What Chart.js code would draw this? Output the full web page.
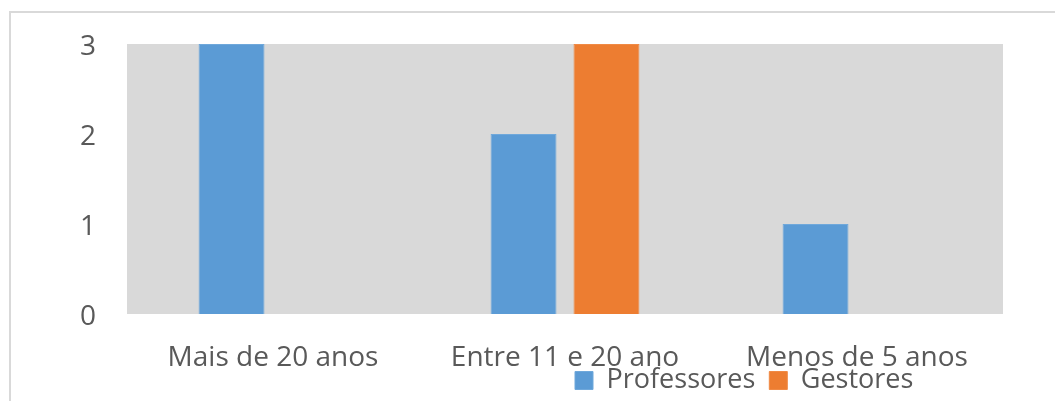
<!DOCTYPE html>
<html>
<head>
<meta charset="utf-8">
<script src="https://cdn.jsdelivr.net/npm/chart.js@4"></script>
<style>
  html, body { margin: 0; padding: 0; background: #fff; }
  #wrap { width: 1055px; height: 401px; position: relative; }
</style>
</head>
<body>
<div id="wrap"><canvas id="grafico"></canvas></div>
<script>
const categorias = ['Mais de 20 anos', 'Entre 11 e 20 ano', 'Menos de 5 anos'];
const professores = [3, 2, 1];
const gestores = [0, 3, 0];
const yTicks = [0, 1, 2, 3];

const AZUL = '#5b9bd5';
const LARANJA = '#ed7d31';
const TEXTO = '#595959';
const FONTE = "'Open Sans', 'Noto Sans', sans-serif";

// fundo cinza da área de plotagem + moldura externa
const fundo = {
  id: 'fundo',
  beforeDraw(chart) {
    const { ctx, chartArea: a } = chart;
    ctx.save();
    ctx.fillStyle = '#d9d9d9';
    ctx.fillRect(a.left, a.top, a.right - a.left, a.bottom - a.top);
    ctx.strokeStyle = '#d9d9d9';
    ctx.lineWidth = 2;
    ctx.beginPath();
    ctx.moveTo(10, 401);
    ctx.lineTo(10, 12);
    ctx.lineTo(1055, 12);
    ctx.stroke();
    ctx.restore();
  }
};

// legenda deslocada para a direita, logo abaixo dos rótulos
const moveLegenda = {
  id: 'moveLegenda',
  afterLayout(chart) {
    const lg = chart.legend;
    const dx = 575 - 14 - lg.left;
    lg.left += dx;
    lg.right += dx;
    const dy = 353 - lg.top;
    lg.top += dy;
    lg.bottom += dy;
  }
};

new Chart(document.getElementById('grafico'), {
  type: 'bar',
  data: {
    labels: categorias,
    datasets: [
      {
        label: 'Professores',
        data: professores,
        backgroundColor: AZUL,
        borderColor: '#6fa8db',
        borderWidth: 1,
        categoryPercentage: 0.568,
        barPercentage: 0.795,
      },
      {
        label: 'Gestores',
        data: gestores,
        backgroundColor: LARANJA,
        borderColor: '#f08a45',
        borderWidth: 1,
        categoryPercentage: 0.568,
        barPercentage: 0.795,
      },
    ]
  },
  options: {
    responsive: true,
    maintainAspectRatio: false,
    animation: false,
    layout: { padding: { top: 44, right: 52, left: 0, bottom: -19 } },
    scales: {
      x: {
        grid: { display: false, drawTicks: false },
        border: { display: false },
        ticks: { color: TEXTO, font: { family: FONTE, size: 28 }, padding: 27, maxRotation: 0, autoSkip: false },
        afterFit(s) { s.height = 55; },
      },
      y: {
        min: 0,
        max: 3,
        afterBuildTicks(s) { s.ticks = yTicks.map(v => ({ value: v })); },
        grid: { display: false, drawTicks: false },
        border: { display: false },
        ticks: { color: TEXTO, font: { family: FONTE, size: 28 }, padding: 31, labelOffset: 3 },
        afterFit(s) { s.width = 127; s.paddingTop = 0; s.paddingBottom = 0; },
      },
    },
    plugins: {
      legend: {
        position: 'bottom',
        align: 'start',
        labels: {
          color: TEXTO,
          font: { family: FONTE, size: 27 },
          boxWidth: 18,
          boxHeight: 18,
          padding: 14,
        },
      },
      tooltip: { enabled: false },
    },
  },
  plugins: [fundo, moveLegenda],
});
</script>
</body>
</html>
